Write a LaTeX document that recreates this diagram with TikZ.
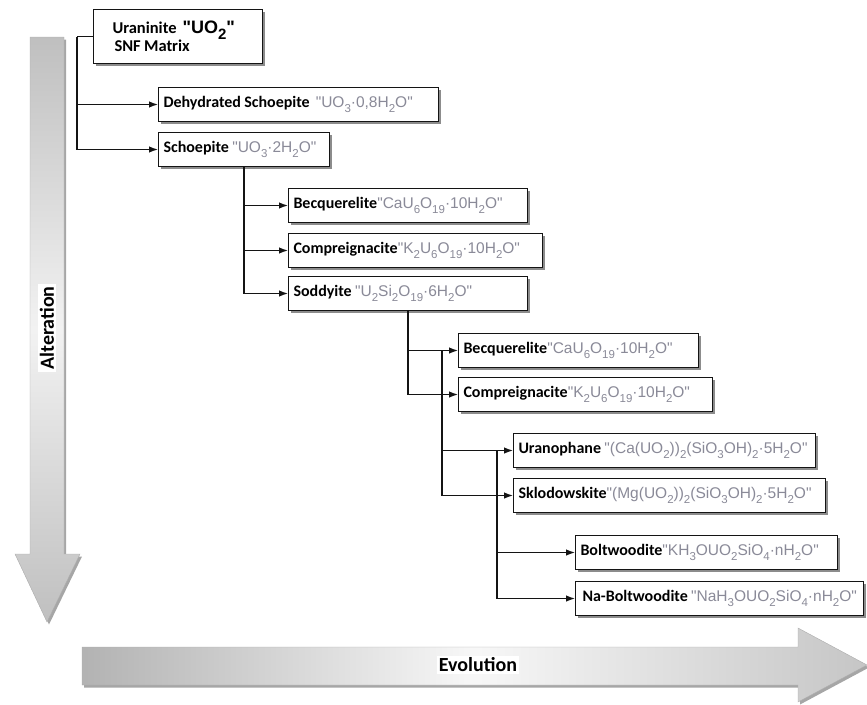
\documentclass[tikz,border=0pt]{standalone}
\usepackage{fontspec}
\setmainfont{Carlito}
\newfontfamily\formfont{Liberation Sans}
\usetikzlibrary{arrows.meta,shadows,calc}
\definecolor{formcol}{RGB}{138,138,152}
\definecolor{linecol}{RGB}{20,20,20}
\newcommand{\sbx}[1]{\raisebox{-0.55ex}{\fontsize{11.5}{11.5}\selectfont #1}}
\newcommand{\fm}[1]{{\formfont\fontsize{15.5}{17}\selectfont\color{formcol}#1}}
\newcommand{\nm}[1]{{\bfseries\fontsize{16}{18}\selectfont #1}}
\begin{document}
\begin{tikzpicture}[x=1pt,y=-1pt,
  box/.style={draw=linecol, line width=1pt, fill=white, anchor=north west,
    minimum height=34pt, inner xsep=5pt, inner ysep=0pt, align=left,
    drop shadow={shadow xshift=2.5pt, shadow yshift=-2.5pt, opacity=0.45, fill=black}},
  conn/.style={draw=linecol, line width=1.2pt},
  arr/.style={conn, -{Latex[length=9pt,width=6.5pt]}},
  bigarrow/.style={draw=gray!65, line width=0.4pt,
    drop shadow={shadow xshift=2pt, shadow yshift=-2.5pt, opacity=0.35, fill=black}},
  lbl/.style={fill=white, inner sep=2pt, font=\bfseries\fontsize{20}{22}\selectfont}
]
\useasboundingbox (0,0) rectangle (867,704);

% big arrows
\path[bigarrow, top color=gray!50, bottom color=gray!50, middle color=gray!10]
  (30,37) -- (64,37) -- (64,554) -- (80,554) -- (47,622) -- (15,554) -- (30,554) -- cycle;
\path[bigarrow, left color=gray!60, right color=gray!45, middle color=gray!6]
  (82,647) -- (798,647) -- (798,628) -- (867,665) -- (798,702) -- (798,685) -- (82,685) -- cycle;
\node[lbl, rotate=90] (alt) at (47,328) {Alteration};
\node[lbl] (evo) at (478,665) {Evolution};

% boxes
\node[box, text width=159pt, minimum height=54pt] (u) at (93,9)
  {\mbox{\hspace*{14pt}{\bfseries\fontsize{16.5}{18}\selectfont Uraninite}\hspace{6pt}{\formfont\bfseries\fontsize{18}{18}\selectfont "UO\raisebox{-0.6ex}{\fontsize{15}{15}\selectfont 2}"}}\\[0pt]
   \mbox{\hspace*{16pt}{\bfseries\fontsize{16.5}{18}\selectfont SNF Matrix}}};
\node[box, text width=270pt] (ds) at (158,87)
  {\mbox{\nm{Dehydrated Schoepite}\hspace{6pt}\fm{"UO\sbx{3}·0,8H\sbx{2}O"}}};
\node[box, text width=161pt] (sc) at (158,132)
  {\mbox{\nm{Schoepite} \fm{"UO\sbx{3}·2H\sbx{2}O"}}};
\node[box, text width=229pt] (b1) at (288,188)
  {\mbox{\nm{Becquerelite}\fm{"CaU\sbx{6}O\sbx{19}·10H\sbx{2}O"}}};
\node[box, text width=244pt] (c1) at (288,233)
  {\mbox{\nm{Compreignacite}\fm{"K\sbx{2}U\sbx{6}O\sbx{19}·10H\sbx{2}O"}}};
\node[box, text width=229pt] (sd) at (288,276)
  {\mbox{\nm{Soddyite} \fm{"U\sbx{2}Si\sbx{2}O\sbx{19}·6H\sbx{2}O"}}};
\node[box, text width=230pt] (b2) at (458,333)
  {\mbox{\nm{Becquerelite}\fm{"CaU\sbx{6}O\sbx{19}·10H\sbx{2}O"}}};
\node[box, text width=244pt] (c2) at (458,377)
  {\mbox{\nm{Compreignacite}\fm{"K\sbx{2}U\sbx{6}O\sbx{19}·10H\sbx{2}O"}}};
\node[box, text width=292pt] (ur) at (513,433)
  {\mbox{\nm{Uranophane} \fm{"(Ca(UO\sbx{2}))\sbx{2}(SiO\sbx{3}OH)\sbx{2}·5H\sbx{2}O"}}};
\node[box, text width=302pt] (sk) at (513,478)
  {\mbox{\nm{Sklodowskite}\fm{"(Mg(UO\sbx{2}))\sbx{2}(SiO\sbx{3}OH)\sbx{2}·5H\sbx{2}O"}}};
\node[box, text width=252pt] (bw) at (575,535)
  {\mbox{\nm{Boltwoodite}\fm{"KH\sbx{3}OUO\sbx{2}SiO\sbx{4}·nH\sbx{2}O"}}};
\node[box, text width=278pt] (nb) at (575,581)
  {\mbox{\hspace*{2pt}\nm{Na-Boltwoodite} \fm{"NaH\sbx{3}OUO\sbx{2}SiO\sbx{4}·nH\sbx{2}O"}}};

% connectors
\coordinate (j0) at ($(u.west)+(-16,0)$);
\draw[conn] (u.west) -- (j0);
\draw[arr] (j0) |- (ds.west);
\draw[arr] (j0) |- (sc.west);
\draw[arr] (sc.south) |- (b1.west);
\draw[arr] (sc.south) |- (c1.west);
\draw[arr] (sc.south) |- (sd.west);
\draw[arr] (sd.south) |- (b2.west);
\draw[arr] (sd.south) |- (c2.west);
\coordinate (j1) at ($(b2.west)+(-16,0)$);
\draw[arr] (j1) |- (ur.west);
\draw[arr] (j1) |- (sk.west);
\coordinate (j2) at ($(ur.west)+(-16,0)$);
\draw[arr] (j2) |- (bw.west);
\draw[arr] (j2) |- (nb.west);
\end{tikzpicture}
\end{document}
